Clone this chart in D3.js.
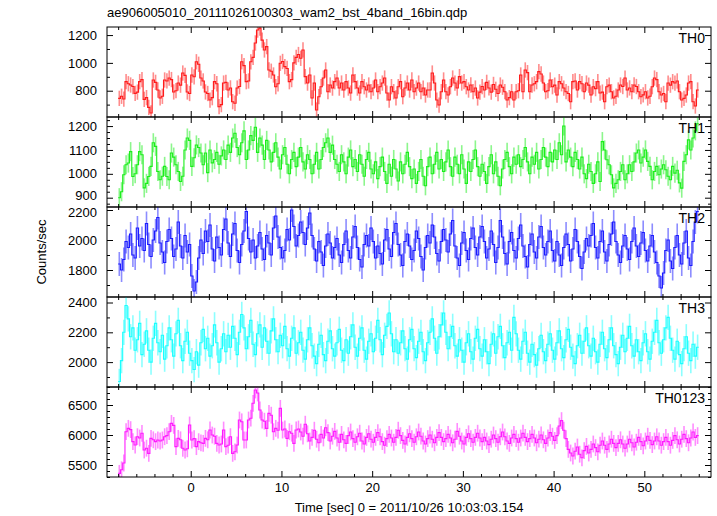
<!DOCTYPE html>
<html><head><meta charset="utf-8">
<script src="https://cdn.jsdelivr.net/npm/d3@7"></script>
<style>
body{margin:0;background:#fff}
svg{display:block}
text{font-family:"Liberation Sans",Arial,Helvetica,sans-serif;fill:#000}
</style>
</head><body>
<svg id="c" width="717" height="516"></svg>
<script>
const title = "ae906005010_20111026100303_wam2_bst_4band_16bin.qdp";
const xTitle = "Time [sec] 0 = 2011/10/26 10:03:03.154";
const yTitle = "Counts/sec";
const panelNames = ["TH0", "TH1", "TH2", "TH3", "TH0123"];
const binStart = -8.0, binWidth = 0.25;
const xMajorTicks = [0, 10, 20, 30, 40, 50];
const xMinorTicks = [-8,-6,-4,-2,2,4,6,8,12,14,16,18,22,24,26,28,32,34,36,38,42,44,46,48,52,54,56];

const th0 = [
745,760,740,865,850,841,830,781,790,865,880,738,750,680,640,877,
860,805,748,760,877,870,891,880,791,800,855,840,927,910,791,780,
913,900,1008,990,891,870,791,780,733,750,865,850,685,700,855,860,
805,820,721,710,819,830,1008,980,865,870,1008,1040,1143,1236,1250,1164,
1093,1117,949,940,913,829,850,997,1010,973,960,865,880,1000,1040,1060,
1033,1093,901,855,913,748,855,661,757,829,891,949,793,841,819,865,
891,819,855,805,865,819,783,913,865,819,783,865,829,805,841,793,
819,877,793,829,855,891,783,733,829,793,748,829,865,757,819,855,
805,877,793,819,855,793,819,769,805,805,927,855,733,697,793,877,
793,769,829,891,855,819,901,855,865,829,805,841,793,819,748,790,
830,805,860,820,790,845,810,780,841,825,793,733,750,793,733,793,
800,913,793,949,930,793,841,850,865,937,920,855,793,800,877,829,
840,769,865,850,819,793,780,721,865,870,805,865,850,793,855,840,
769,829,815,865,783,790,721,829,840,793,748,760,805,841,830,891,
805,820,793,841,830,793,757,770,793,748,760,829,891,880,793,769,
780,721,855,840,865,855,870,793,733,745,769,855,865,721,690,805];

const th1 = [
900,925,996,1038,1045,1093,989,1000,1038,1093,1080,941,960,989,1031,1130,
1115,1010,975,990,1031,989,975,1087,1070,1038,1010,968,990,1100,1150,1140,
1031,1067,1121,1110,1087,1038,1087,1005,1100,1046,1060,1090,1040,1075,1100,1060,
1120,1090,1150,1170,1110,1080,1130,1180,1060,1100,1160,1140,1195,1090,1150,1120,
1060,1140,1100,1050,1090,1130,1070,1020,1080,1110,1040,1000,1060,1090,1030,1070,
1110,1050,1020,1080,1060,1000,1040,1090,1020,1060,1110,1130,1150,1090,1120,1060,
1040,1010,1080,1050,1000,1070,1100,1030,1060,1010,1080,1040,990,1060,1090,1020,
1000,1050,980,1030,1070,1010,960,1040,990,1060,1020,970,1050,1000,1040,1090,
1030,980,1020,960,1010,1060,990,950,1030,1070,1000,1040,1090,1020,1060,1010,
1050,1100,1030,990,1070,1040,1000,1080,1020,960,1050,1010,1060,1100,1030,990,
1040,1010,960,1030,1080,1000,1050,990,950,1020,1060,1090,1030,1000,1070,1040,
1080,1030,1060,1110,1050,1000,1070,1040,1090,1020,1060,1110,1070,1030,1090,1050,
1100,1060,1130,1080,1200,1050,1100,1070,1030,1090,1060,1020,1070,1000,980,1040,
1010,960,1000,1050,968,1135,1100,1059,1038,996,941,960,975,1010,1038,975,
1000,1038,1010,1050,1087,1100,1045,1070,1100,1052,1031,975,1010,1031,996,1020,
1038,1017,990,975,1031,1003,1015,962,940,1052,1080,1142,1100,1150,1180,1210];

const th2 = [
1840,1800,1870,1990,1950,2040,1900,1880,2080,1960,2010,1930,2110,1970,1890,2000,
2060,2150,1980,1920,1850,1990,2070,2010,1890,1940,2120,1960,1880,2030,1920,1970,
1760,1660,1720,1880,2000,1910,2060,1990,2100,1940,1860,2020,1950,1900,2070,2140,
1980,1890,2040,2110,1930,1850,1970,2060,2190,2010,1920,2000,1880,1960,2050,1940,
1870,2030,1980,1900,2080,2160,2020,1950,1880,1930,2070,2000,2200,2090,1960,2030,
2120,2050,1970,2080,2180,2030,1940,1860,1990,1920,1830,1960,2040,1980,1880,1950,
2010,1900,1850,1970,2060,1930,1880,2020,2090,1950,1870,1820,1970,2030,1960,2080,
1990,1880,1960,1910,1840,2000,2070,1940,1890,2050,2110,1970,1900,1830,1990,2040,
1960,1870,1930,2060,2010,1890,1800,1950,2030,1980,2100,2020,1910,1860,1990,2070,
2000,1920,2040,2130,1960,1880,1830,1980,2050,1930,1870,2010,2080,1950,1900,2020,
2090,1990,1880,1940,2060,1970,1850,1950,2130,2020,1910,1840,1990,2050,1930,1880,
2010,2100,1960,1890,1820,1970,2040,1920,1880,2020,2090,1950,1900,1990,2060,1930,
1860,1990,1900,1830,1950,2040,1970,1860,1940,2070,1990,1890,1810,1920,2010,1960,
2030,2110,1950,1880,1990,2060,1920,1860,1970,2040,2120,1990,1900,1850,1960,2030,
1940,1870,1990,2080,1960,1890,1980,2050,1930,1860,1960,2030,1920,1850,1760,1680,
1780,1930,2000,1860,1810,1950,2030,1900,1840,1980,2060,1880,1830,1990,2120,2190];

const th3 = [
1870,2010,2200,2380,2290,2170,2230,2080,2150,2260,2050,2120,2210,2080,2000,2160,
2260,2130,2070,2180,2020,2110,2230,2150,2040,2190,2280,2110,2010,2140,2200,2060,
2010,1950,2070,1980,2130,2220,2090,2160,2040,2110,2250,2130,2000,2090,2190,2070,
2180,2100,2240,2160,2050,2200,2320,2230,2090,2170,2280,2120,2050,2190,2250,2100,
2230,2140,2060,2210,2290,2150,2070,2180,2110,2240,2090,2040,2160,2230,2060,2130,
2200,2080,2020,2150,2230,2110,2040,1990,2120,2180,2050,2010,2140,2210,2090,2040,
2130,2220,2080,2010,2150,2060,2170,2250,2100,2040,2160,2230,2080,2020,2140,2190,
2070,2160,2280,2150,2050,2180,2240,2330,2190,2070,2150,2060,2130,2210,2090,2020,
2150,2220,2090,2030,2140,2200,2070,2010,2130,2200,2290,2160,2060,2170,2250,2330,
2200,2090,2170,2240,2110,2040,2150,2080,2000,2130,2190,2070,2020,2160,2220,2090,
2040,2150,2070,1990,2120,2190,2060,2170,2240,2110,2030,2130,2200,2080,2300,2190,
2080,2020,2140,2200,2060,2000,2120,2050,1980,2090,2180,2070,2010,2120,2190,2080,
2020,2130,2210,2090,2030,2150,2220,2100,2040,1990,2110,2180,2060,2140,2230,2110,
2040,2160,2070,2000,2120,2200,2090,2030,2150,2230,2110,2050,1990,2100,2180,2070,
2160,2240,2110,2040,2150,2070,2010,2130,2190,2070,2020,2140,2200,2280,2130,2060,
2150,2230,2300,2160,2080,2020,2140,2050,1990,2090,2170,2060,2010,2120,2040,2100];

const th0123 = [
5361,5420,5533,6055,6111,6090,5889,5833,5972,5950,6028,5750,5780,5694,5944,5920,
5889,5917,5900,5917,5972,5990,6055,6194,6160,5806,5944,5920,5778,5750,5770,6167,
5917,5940,5806,5889,5870,5861,5944,5920,6083,6000,5980,5861,5833,5850,6083,5806,
5830,5972,5694,5720,5833,6250,6220,5917,5917,6250,6280,6528,6750,6700,6417,6250,
6230,6111,6361,6330,6055,6111,6080,6444,6083,6100,5944,6055,6030,5861,6083,6100,
6050,5980,6180,6020,5900,5960,6080,5930,5870,6010,5950,6120,6040,5900,5980,6060,
5950,5880,6010,5920,5860,5990,6050,5940,5880,5970,6030,5900,5850,5960,6020,5930,
5880,5960,6040,5970,5890,5830,5940,6010,5950,5880,5960,6080,5990,5910,5850,5960,
6020,5940,5880,5970,6050,5980,5900,5850,5940,6000,5930,5870,5960,6040,5960,5890,
5940,6010,5950,5870,5930,6060,5980,5900,5850,5960,6020,5940,5880,5960,6030,5950,
5890,5960,5900,5840,5930,6000,5940,5880,5970,6050,5970,5900,5860,5950,6010,5940,
5880,5950,6030,5960,5890,5940,6010,5950,5870,5930,6000,5920,5860,5950,6040,5980,
5910,5990,6150,6240,6080,5940,5760,5700,5650,5730,5800,5680,5620,5740,5810,5700,
5760,5850,5790,5720,5830,5900,5830,5760,5850,5930,5860,5790,5860,5920,5850,5780,
5850,5930,5870,5800,5880,5960,5890,5820,5900,5980,5910,5840,5900,5970,5900,5830,
5890,5960,5890,5830,5910,5990,5920,5850,5930,6010,5940,5870,5950,6050,5960,5990];

const seriesValues = [th0, th1, th2, th3, th0123];
const seriesErrors = [55, 40, 80, 85, 140];
const yDomains = [[611, 1258], [861, 1238], [1620, 2220], [1833, 2437], [5300, 6800]];
const yMajorTicks = [[800, 1000, 1200], [900, 1000, 1100, 1200], [1800, 2000, 2200], [2000, 2200, 2400], [5500, 6000, 6500]];
const yMinorStep = [100, 25, 100, 100, 100];
const colors = ["#ff1a1a", "#1aee1a", "#1a1aff", "#1affff", "#ff1aff"];

const svg = d3.select("#c");
const L = 107, R = 711, T = 27, PH = 90;
const x = d3.scaleLinear().domain([-9.23, 57.35]).range([L, R]);
const FS = "13px";

function minorTicks(dom, step, majors) {
  const out = [];
  for (let v = Math.ceil(dom[0] / step) * step; v <= dom[1]; v += step) {
    if (!majors.some(m => Math.abs(m - v) < 1e-6)) out.push(v);
  }
  return out;
}

seriesValues.forEach((vals, k) => {
  const top = T + k * PH, bot = top + PH;
  const y = d3.scaleLinear().domain(yDomains[k]).range([bot, top]);
  const g = svg.append("g");
  const clipId = "clip" + k;
  svg.append("clipPath").attr("id", clipId).append("rect")
    .attr("x", L).attr("y", top).attr("width", R - L).attr("height", PH);
  const dg = g.append("g").attr("clip-path", `url(#${clipId})`);
  const err = seriesErrors[k];
  dg.selectAll("line.err").data(vals).join("line").attr("class", "err")
    .attr("x1", (d, i) => x(binStart + binWidth * (i + 0.5)))
    .attr("x2", (d, i) => x(binStart + binWidth * (i + 0.5)))
    .attr("y1", d => y(d - err)).attr("y2", d => y(d + err))
    .attr("stroke", colors[k]).attr("stroke-opacity", 0.5).attr("stroke-width", 1.6);
  const pts = vals.map((v, i) => [binStart + binWidth * i, v]);
  pts.push([binStart + binWidth * vals.length, vals[vals.length - 1]]);
  dg.append("path")
    .attr("d", d3.line().x(d => x(d[0])).y(d => y(d[1])).curve(d3.curveStepAfter)(pts))
    .attr("fill", "none").attr("stroke", colors[k]).attr("stroke-width", 1.1);

  const styleAxis = sel => {
    sel.select(".domain").remove();
    sel.selectAll("line").attr("stroke", "#000");
    sel.selectAll("text").style("font-size", FS).attr("font-family", null);
  };
  const majY = yMajorTicks[k];
  const minY = minorTicks(yDomains[k], yMinorStep[k], majY);
  const leftAx = g.append("g").attr("transform", `translate(${L},0)`)
    .call(d3.axisLeft(y).tickValues(majY).tickSize(-6).tickPadding(10).tickFormat(d3.format("d"))).call(styleAxis);
  // keep labels that sit right at a panel edge from colliding with the neighbour panel's labels
  leftAx.selectAll(".tick text").attr("dy", d => {
    const py = y(d);
    if (py - top < 4) return "0.52em";
    if (bot - py < 10) return "0.17em";
    return "0.32em";
  });
  g.append("g").attr("transform", `translate(${L},0)`)
    .call(d3.axisLeft(y).tickValues(minY).tickSize(-3).tickFormat("")).call(styleAxis);
  g.append("g").attr("transform", `translate(${R},0)`)
    .call(d3.axisRight(y).tickValues(majY).tickSize(-6).tickFormat("")).call(styleAxis);
  g.append("g").attr("transform", `translate(${R},0)`)
    .call(d3.axisRight(y).tickValues(minY).tickSize(-3).tickFormat("")).call(styleAxis);
  g.append("g").attr("transform", `translate(0,${top})`)
    .call(d3.axisTop(x).tickValues(xMajorTicks).tickSize(-6).tickFormat("")).call(styleAxis);
  g.append("g").attr("transform", `translate(0,${top})`)
    .call(d3.axisTop(x).tickValues(xMinorTicks).tickSize(-3).tickFormat("")).call(styleAxis);
  g.append("g").attr("transform", `translate(0,${bot})`)
    .call(d3.axisBottom(x).tickValues(xMajorTicks).tickSize(-6).tickPadding(6)
      .tickFormat(k === seriesValues.length - 1 ? d3.format("d") : "")).call(styleAxis);
  g.append("g").attr("transform", `translate(0,${bot})`)
    .call(d3.axisBottom(x).tickValues(xMinorTicks).tickSize(-3).tickFormat("")).call(styleAxis);

  g.append("rect").attr("x", L).attr("y", top).attr("width", R - L).attr("height", PH)
    .attr("fill", "none").attr("stroke", "#000").attr("stroke-width", 1);
  g.append("text").attr("x", R - 6).attr("y", top + 16).attr("text-anchor", "end")
    .style("font-size", "14px").text(panelNames[k]);
});

svg.append("text").attr("x", L).attr("y", 17).style("font-size", "13px").text(title);
svg.append("text").attr("x", (L + R) / 2).attr("y", 512).attr("text-anchor", "middle")
  .style("font-size", "13px").text(xTitle);
svg.append("text").attr("transform", `translate(46,${T + PH * 2.5}) rotate(-90)`)
  .attr("text-anchor", "middle").style("font-size", "13px").text(yTitle);
</script>
</body></html>
